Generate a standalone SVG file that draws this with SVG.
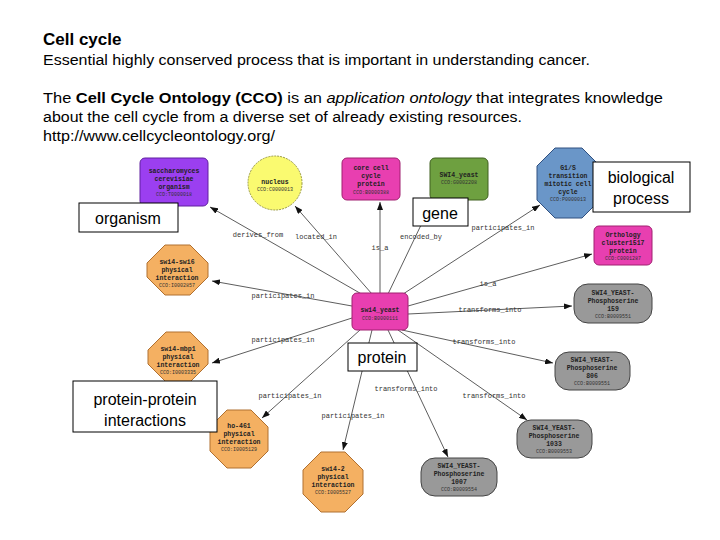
<svg xmlns="http://www.w3.org/2000/svg" width="720" height="540" viewBox="0 0 720 540">
<defs>
<style>
.h{font-family:"Liberation Sans",Arial,sans-serif;fill:#000}
.n{font-family:"Liberation Mono",monospace;font-size:6.5px;font-weight:bold;text-anchor:middle;fill:#222}
.i{font-family:"Liberation Mono",monospace;font-size:5px;text-anchor:middle;fill:#333}
.e{font-family:"Liberation Mono",monospace;font-size:7px;fill:#333;text-anchor:middle}
.c line{stroke:#333;stroke-width:0.8;marker-end:url(#a)}
.lb rect{fill:#fff;stroke:#000;stroke-width:1}
.lb text{font-family:"Liberation Sans",Arial,sans-serif;font-size:16px;text-anchor:middle}
.pk{fill:#e83fb0;stroke:#a02070}
.gr{fill:#999;stroke:#444}
.or{fill:#f4b062;stroke:#b07030}
</style>
<marker id="a" markerWidth="8" markerHeight="6" refX="8" refY="3" orient="auto" markerUnits="userSpaceOnUse"><path d="M0,0L8,3L0,6z" fill="#111"/></marker>
</defs>
<rect width="720" height="540" fill="#fff"/>
<text class="h" x="43" y="45" font-size="17" font-weight="bold">Cell cycle</text>
<text class="h" x="43" y="65" font-size="14" textLength="547" lengthAdjust="spacingAndGlyphs">Essential highly conserved process that is important in understanding cancer.</text>
<text class="h" x="43" y="103" font-size="14" textLength="620" lengthAdjust="spacingAndGlyphs">The <tspan font-weight="bold">Cell Cycle Ontology (CCO)</tspan> is an <tspan font-style="italic">application ontology</tspan> that integrates knowledge</text>
<text class="h" x="43" y="122" font-size="14" textLength="479" lengthAdjust="spacingAndGlyphs">about the cell cycle from a diverse set of already existing resources.</text>
<text class="h" x="43" y="141" font-size="14" textLength="232" lengthAdjust="spacingAndGlyphs">http://www.cellcycleontology.org/</text>
<g class="c">
<line x1="365" y1="296" x2="210" y2="207"/>
<line x1="372" y1="294" x2="295" y2="206"/>
<line x1="380" y1="293" x2="380" y2="202"/>
<line x1="388" y1="294" x2="433" y2="200"/>
<line x1="400" y1="296" x2="540" y2="205"/>
<line x1="408" y1="306" x2="592" y2="254"/>
<line x1="408" y1="314" x2="572" y2="306"/>
<line x1="352" y1="306" x2="212" y2="281"/>
<line x1="352" y1="318" x2="212" y2="363"/>
<line x1="402" y1="330" x2="553" y2="363"/>
<line x1="360" y1="330" x2="262" y2="418"/>
<line x1="372" y1="330" x2="343" y2="450"/>
<line x1="388" y1="330" x2="448" y2="457"/>
<line x1="398" y1="330" x2="527" y2="420"/>
</g>
<g class="e">
<text x="258" y="237">derives_from</text><text x="316" y="239">located_in</text><text x="380" y="250">is_a</text>
<text x="421" y="239">encoded_by</text><text x="503" y="230">participates_in</text><text x="488" y="286">is_a</text>
<text x="490" y="312">transforms_into</text><text x="283" y="298">participates_in</text><text x="283" y="342">participates_in</text>
<text x="484" y="344">transforms_into</text><text x="406" y="391">transforms_into</text><text x="494" y="398">transforms_into</text>
<text x="290" y="398">participates_in</text><text x="353" y="418">participates_in</text>
</g>
<g id="center"><rect class="pk" x="352" y="293" width="56" height="37" rx="5"/><text class="n" x="380" y="312">swi4_yeast</text><text class="i" x="380" y="320">CCO:B0000111</text></g>
<g id="organismNode"><rect x="140" y="158" width="68" height="48" rx="5" fill="#9b3ff0" stroke="#6020a0"/><text class="n" x="174" y="173">saccharomyces</text><text class="n" x="174" y="181">cerevisiae</text><text class="n" x="174" y="189">organism</text><text class="i" x="174" y="196">CCO:T0000018</text></g>
<g id="nucleus"><circle cx="275" cy="183" r="27" fill="#fafa70" stroke="#999940" stroke-dasharray="2 1"/><text class="n" x="275" y="184">nucleus</text><text class="i" x="275" y="191">CCO:C0000013</text></g>
<g id="core"><rect class="pk" x="342" y="158" width="58" height="42" rx="5"/><text class="n" x="371" y="170">core cell</text><text class="n" x="371" y="178">cycle</text><text class="n" x="371" y="186">protein</text><text class="i" x="371" y="194">CCO:B0000388</text></g>
<g id="gene1"><rect x="430" y="158" width="58" height="42" rx="5" fill="#6ea040" stroke="#406020"/><text class="n" x="459" y="177">SWI4_yeast</text><text class="i" x="459" y="184">CCO:G0002208</text></g>
<g id="g1s"><polygon points="555,148 582,148 600,166 600,200 582,218 555,218 537,200 537,166" fill="#6a96c8" stroke="#305080"/><text class="n" x="568" y="170">G1/S</text><text class="n" x="568" y="178">transition</text><text class="n" x="568" y="186">mitotic cell</text><text class="n" x="568" y="194">cycle</text><text class="i" x="568" y="201">CCO:P0000013</text></g>
<g id="ortho"><rect class="pk" x="594" y="226" width="58" height="39" rx="5"/><text class="n" x="623" y="237">Orthology</text><text class="n" x="623" y="245">cluster1517</text><text class="n" x="623" y="253">protein</text><text class="i" x="623" y="260">CCO:C0001287</text></g>
<g id="p159"><rect class="gr" x="574" y="284" width="78" height="39" rx="14"/><text class="n" x="613" y="295">SWI4_YEAST-</text><text class="n" x="613" y="303">Phosphoserine</text><text class="n" x="613" y="311">159</text><text class="i" x="613" y="318">CCO:B0009551</text></g>
<g id="p806"><rect class="gr" x="555" y="352" width="75" height="38" rx="14"/><text class="n" x="592" y="362">SWI4_YEAST-</text><text class="n" x="592" y="370">Phosphoserine</text><text class="n" x="592" y="378">806</text><text class="i" x="592" y="385">CCO:B0009551</text></g>
<g id="p1033"><rect class="gr" x="517" y="420" width="75" height="38" rx="14"/><text class="n" x="554" y="430">SWI4_YEAST-</text><text class="n" x="554" y="438">Phosphoserine</text><text class="n" x="554" y="446">1033</text><text class="i" x="554" y="453">CCO:B0009553</text></g>
<g id="p1007"><rect class="gr" x="421" y="458" width="76" height="38" rx="14"/><text class="n" x="459" y="468">SWI4_YEAST-</text><text class="n" x="459" y="476">Phosphoserine</text><text class="n" x="459" y="484">1007</text><text class="i" x="459" y="491">CCO:B0009554</text></g>
<g id="swi42"><polygon points="321,452 345,452 363,470 363,494 345,512 321,512 303,494 303,470" class="or"/><text class="n" x="333" y="471">swi4-2</text><text class="n" x="333" y="479">physical</text><text class="n" x="333" y="487">interaction</text><text class="i" x="333" y="494">CCO:I0005527</text></g>
<g id="ho461"><polygon points="227,410 251,410 268,427 268,451 251,468 227,468 210,451 210,427" class="or"/><text class="n" x="239" y="428">ho-461</text><text class="n" x="239" y="436">physical</text><text class="n" x="239" y="444">interaction</text><text class="i" x="239" y="451">CCO:I0005129</text></g>
<g id="mbp1"><polygon points="166,332 190,332 208,350 208,364 190,382 166,382 148,364 148,350" class="or"/><text class="n" x="178" y="351">swi4-mbp1</text><text class="n" x="178" y="359">physical</text><text class="n" x="178" y="367">interaction</text><text class="i" x="178" y="374">CCO:I0003335</text></g>
<g id="swi6"><polygon points="165,245 190,245 208,263 208,277 190,295 165,295 147,277 147,263" class="or"/><text class="n" x="177" y="264">swi4-swi6</text><text class="n" x="177" y="272">physical</text><text class="n" x="177" y="280">interaction</text><text class="i" x="177" y="287">CCO:I0002857</text></g>
<g class="lb">
<g id="lbOrganism"><rect x="79" y="203" width="99" height="29"/><text x="128" y="224">organism</text></g>
<g id="lbGene"><rect x="413" y="198" width="55" height="28"/><text x="440" y="219">gene</text></g>
<g id="lbBP"><rect x="593" y="162" width="97" height="50"/><text x="641" y="183">biological</text><text x="641" y="204">process</text></g>
<g id="lbProtein"><rect x="348" y="343" width="69" height="28"/><text x="382" y="363">protein</text></g>
<g id="lbPPI"><rect x="73" y="381" width="144" height="51"/><text x="145" y="405">protein-protein</text><text x="145" y="426">interactions</text></g>
</g>
</svg>
